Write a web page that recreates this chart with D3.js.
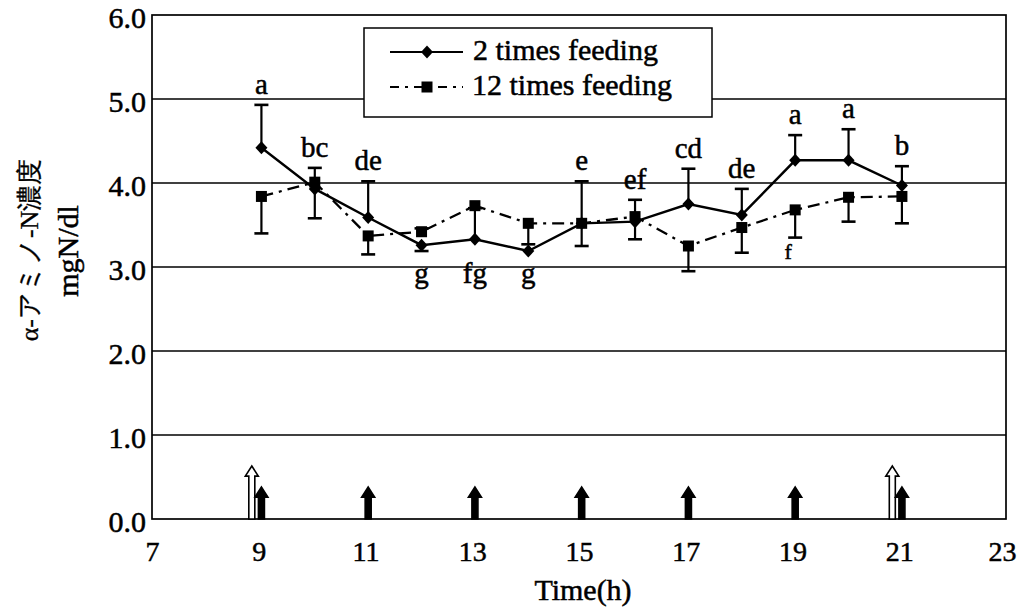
<!DOCTYPE html>
<html><head><meta charset="utf-8">
<script src="https://cdn.jsdelivr.net/npm/d3@7"></script>
<style>html,body{margin:0;padding:0;background:#fff;} text{font-family:'Liberation Serif','Times New Roman',serif;}</style>
</head><body>
<svg id="chart" width="1017" height="607"></svg>
<script>
// ---- data ----
const hours = [9,10,11,12,13,14,15,16,17,18,19,20,21];
const twoTimes      = [4.42,3.93,3.59,3.26,3.33,3.19,3.52,3.54,3.75,3.62,4.27,4.27,3.97];
const twoTimesErr   = [0.51,-0.35,0.43,-0.07,0.37,0,0.50,-0.21,0.42,0.31,0.30,0.37,0.23];
const twelveTimes   = [3.84,4.01,3.37,3.42,3.73,3.52,3.52,3.60,3.25,3.47,3.68,3.83,3.84];
const twelveTimesErr= [-0.44,0.17,-0.22,0.04,0,-0.25,-0.27,0.20,-0.30,-0.30,-0.33,-0.29,-0.32];
const sigLetters = ["a","bc","de","g","fg","g","e","ef","cd","de","a","a","b"];
const sigBelow   = [false,false,false,true,true,true,false,false,false,false,false,false,false];
const noteHour = 19, noteText = "f";
const feed12Hours = [9,11,13,15,17,19,21];
const feed2Hours = [9,21];
const xTicks = [7,9,11,13,15,17,19,21,23];
const yTicks = [0,1,2,3,4,5,6];
const seriesNames = ["2 times feeding","12 times feeding"];

// ---- layout ----
const svg = d3.select("#chart");
const L = 152, R = 1006, T = 15, B = 519;
const x = d3.scaleLinear().domain([7,23]).range([L,R]);
const y = d3.scaleLinear().domain([0,6]).range([B,T]);
const off = 0.05;
const serif = "'Liberation Serif','Times New Roman',serif";
function heavy(sel){ return sel.attr("stroke","#000").attr("stroke-width",0.5).attr("fill","#000"); }

// grid
svg.append("g").selectAll("line").data(yTicks.filter(v=>v>0&&v<6)).join("line")
  .attr("x1",L).attr("x2",R).attr("y1",d=>y(d)).attr("y2",d=>y(d))
  .attr("stroke","#000").attr("stroke-width",1.5);
svg.append("rect").attr("x",L).attr("y",T).attr("width",R-L).attr("height",B-T)
  .attr("fill","none").attr("stroke","#000").attr("stroke-width",1.7);

// axes labels
const yAxis = d3.axisLeft(y).tickValues(yTicks).tickFormat(d3.format(".1f")).tickSize(0).tickPadding(6);
const gy = svg.append("g").attr("transform",`translate(${L},0)`).call(yAxis);
gy.attr("font-family",serif);
gy.select(".domain").remove();
heavy(gy.selectAll("text").attr("font-family",serif).attr("font-size",30).attr("dy","0.42em"));
const xAxis = d3.axisBottom(x).tickValues(xTicks).tickFormat(d3.format("d")).tickSize(0).tickPadding(22);
const gx = svg.append("g").attr("transform",`translate(0,${B})`).call(xAxis);
gx.attr("font-family",serif);
gx.select(".domain").remove();
heavy(gx.selectAll("text").attr("font-family",serif).attr("font-size",28)
  .attr("dx",d=>d===xTicks[xTicks.length-1]?-4:0));

heavy(svg.append("text").attr("x",(L+R)/2+4).attr("y",600).attr("text-anchor","middle")
  .attr("font-family",serif).attr("font-size",30).text("Time(h)"));
heavy(svg.append("text").attr("transform","translate(38,250) rotate(-90)").attr("text-anchor","middle")
  .attr("font-family","'Liberation Serif','Noto Sans CJK JP',serif").attr("font-size",26).text("α-アミノ-N濃度")).attr("stroke-width",0.3);
heavy(svg.append("text").attr("transform","translate(78,251) rotate(-90)").attr("text-anchor","middle")
  .attr("font-family",serif).attr("font-size",30).text("mgN/dl"));

// feeding arrows
function arrow(g, cx, h, fill){
  const y0 = y(0), y1 = y(h), sw = 3, hw = 6.5, hl = 10;
  g.append("path").attr("d",`M${cx-sw},${y0} L${cx-sw},${y1+hl} L${cx-hw},${y1+hl} L${cx},${y1} L${cx+hw},${y1+hl} L${cx+sw},${y1+hl} L${cx+sw},${y0} Z`)
   .attr("fill",fill).attr("stroke","#000").attr("stroke-width",1.6);
}
const ga = svg.append("g");
feed2Hours.forEach(h=>arrow(ga, x(h-0.13), 0.63, "#fff"));
feed12Hours.forEach(h=>arrow(ga, x(h+off), 0.38, "#000"));

// error bars
function errBars(vals, errs){
  const g = svg.append("g");
  hours.forEach((h,i)=>{
    if(!errs[i]) return;
    const cx = x(h+off), ye = y(vals[i]+errs[i]);
    g.append("line").attr("x1",cx).attr("x2",cx).attr("y1",y(vals[i])).attr("y2",ye).attr("stroke","#000").attr("stroke-width",2.2);
    g.append("line").attr("x1",cx-7).attr("x2",cx+7).attr("y1",ye).attr("y2",ye).attr("stroke","#000").attr("stroke-width",2.6);
  });
}
errBars(twoTimes, twoTimesErr);
errBars(twelveTimes, twelveTimesErr);

const line = d3.line().x((d,i)=>x(hours[i]+off)).y(d=>y(d));
svg.append("path").datum(twelveTimes).attr("d",line).attr("fill","none").attr("stroke","#000")
  .attr("stroke-width",2.3).attr("stroke-dasharray","12,6,3,6");
svg.append("path").datum(twoTimes).attr("d",line).attr("fill","none").attr("stroke","#000").attr("stroke-width",2.4);

const diamond = "M0,-6.5L6,0L0,6.5L-6,0Z";
svg.append("g").selectAll("rect").data(twelveTimes).join("rect")
  .attr("x",(d,i)=>x(hours[i]+off)-5.5).attr("y",d=>y(d)-5.5).attr("width",11).attr("height",11).attr("fill","#000");
svg.append("g").selectAll("path").data(twoTimes).join("path")
  .attr("d",diamond).attr("transform",(d,i)=>`translate(${x(hours[i]+off)},${y(d)})`).attr("fill","#000");

// significance letters
const belowBase = y(d3.min(hours.map((h,i)=>sigBelow[i]?Math.min(twoTimes[i],twoTimes[i]+twoTimesErr[i]):99))) + 32;
heavy(svg.append("g").selectAll("text").data(sigLetters).join("text")
  .attr("x",(d,i)=>x(hours[i]+off)).attr("text-anchor","middle")
  .attr("y",(d,i)=>{
    if(sigBelow[i]) return belowBase;
    const top = Math.max(twoTimes[i],twoTimes[i]+twoTimesErr[i],twelveTimes[i],twelveTimes[i]+twelveTimesErr[i]);
    return y(top)-11;
  })
  .attr("font-family",serif).attr("font-size",29).text(d=>d));
const ni = hours.indexOf(noteHour);
heavy(svg.append("text").attr("x",x(noteHour+off)-7).attr("y",y(twelveTimes[ni]+twelveTimesErr[ni])+21)
  .attr("text-anchor","middle").attr("font-family",serif).attr("font-size",22).text(noteText));

// legend
const lg = svg.append("g");
lg.append("rect").attr("x",364).attr("y",28).attr("width",348).attr("height",89)
  .attr("fill","#fff").attr("stroke","#000").attr("stroke-width",1.5);
[0,1].forEach(k=>{
  const ly = 52 + k*35;
  lg.append("line").attr("x1",390).attr("x2",463).attr("y1",ly).attr("y2",ly).attr("stroke","#000")
    .attr("stroke-width",2.2).attr("stroke-dasharray",k? "9,6,3,6":null);
  if(k===0) lg.append("path").attr("d",diamond).attr("transform",`translate(427,${ly})`).attr("fill","#000");
  else lg.append("rect").attr("x",421.5).attr("y",ly-5.5).attr("width",11).attr("height",11).attr("fill","#000");
  heavy(lg.append("text").attr("x",k?472:473).attr("y",ly+8).attr("font-family",serif).attr("font-size",30).text(seriesNames[k]));
});
</script>
</body></html>
